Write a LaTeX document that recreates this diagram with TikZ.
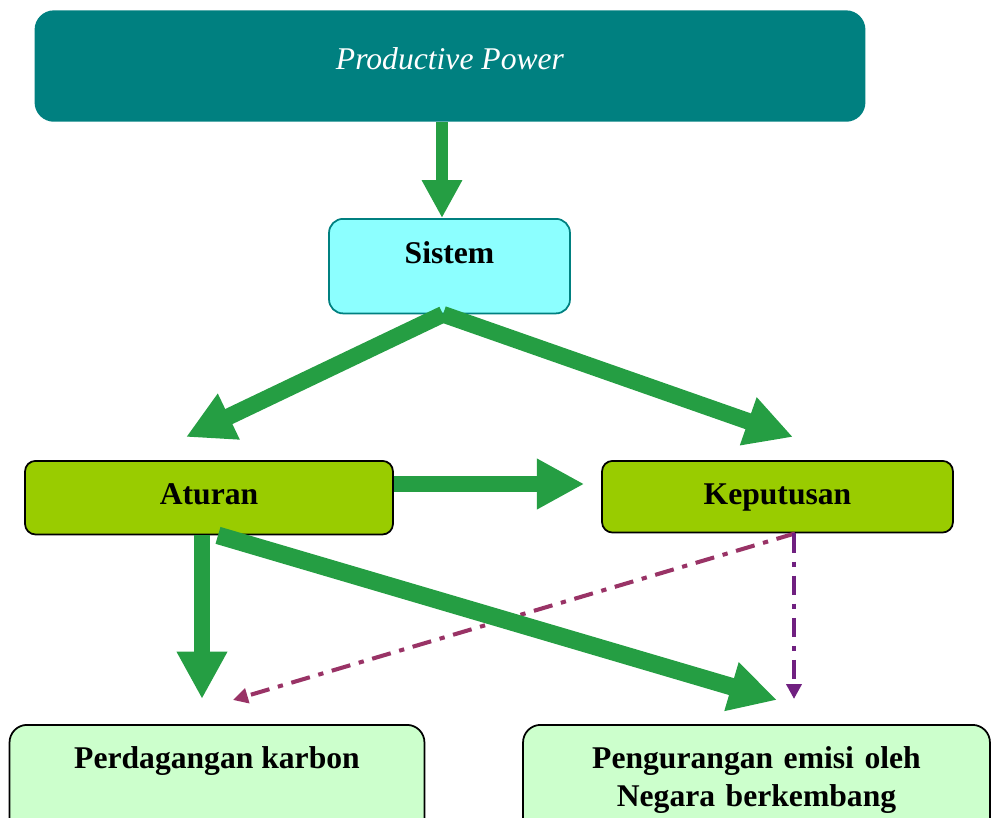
\documentclass[tikz,border=0pt]{standalone}
\usepackage{fontspec}
\setmainfont{Liberation Serif}
\usetikzlibrary{arrows.meta}
\definecolor{ppteal}{RGB}{0,128,128}
\definecolor{siscyan}{RGB}{140,255,255}
\definecolor{lime}{RGB}{153,204,0}
\definecolor{mint}{RGB}{204,255,204}
\definecolor{fgreen}{RGB}{37,158,67}
\definecolor{pdiag}{RGB}{153,51,102}
\definecolor{pvert}{RGB}{112,32,128}
\begin{document}
\begin{tikzpicture}[x=0.02cm,y=-0.02cm,
  box/.style={rounded corners=6pt,inner xsep=0pt,inner ysep=0pt,anchor=north,
    font=\fontsize{18}{21.5}\selectfont\bfseries},
  garrow/.style={color=fgreen,line width=9.5pt,-{Triangle[length=27pt,width=27pt]}},
  parrow/.style={line width=2.3pt,dash pattern=on 11pt off 5pt on 3pt off 5pt,
    -{Triangle[length=8.5pt,width=8.5pt]}}]
  \useasboundingbox (0,0) rectangle (991,818);
  \clip (0,0) rectangle (991,818);

  % 方框
  \node[box,fill=ppteal,rounded corners=11pt,minimum width=16.62cm,
    text height=33.4pt,text depth=30pt,text=white,
    font=\fontsize{18}{21.5}\selectfont\itshape] (pp) at (450,10) {Productive Power};
  \node[box,draw=ppteal,fill=siscyan,line width=1pt,rounded corners=8pt,
    minimum width=4.82cm,text height=25.5pt,text depth=28.3pt] (sistem) at (449.5,218) {Sistem};
  \node[box,draw=black,fill=lime,line width=1pt,minimum width=7.36cm,
    text height=24.9pt,text depth=17pt] (aturan) at (209,460) {Aturan};
  \node[box,draw=black,fill=lime,line width=1pt,minimum width=7.02cm,
    text height=24.9pt,text depth=15.9pt] (keputusan) at (777.5,460) {Keputusan};
  \node[box,draw=black,fill=mint,line width=1pt,rounded corners=10pt,minimum width=8.3cm,
    text height=24.9pt,text depth=80pt] (dagang) at (217,724) {Perdagangan karbon};
  \node[box,draw=black,fill=mint,line width=1pt,rounded corners=10pt,text width=9.34cm,
    align=center,text height=24.9pt,text depth=80pt] (emisi) at (756.5,724)
    {Pengurangan emisi oleh\\Negara berkembang};

  % 端点
  \coordinate (aturanTip) at (186,437);
  \coordinate (kepTip) at (793,437);
  \coordinate (dagangTip) at (202,699);
  \coordinate (emisiTip) at (777,700);
  \coordinate (dagangDot) at (233,700);
  \coordinate (emisiDot) at (794,699);

  % 虚线
  \draw[parrow,color=pdiag] (keputusan.south -| 795,0) -- (dagangDot);
  \draw[parrow,color=pvert] (keputusan.south -| 794,0) -- (emisiDot);

  % 箭头
  \draw[garrow,line width=6.8pt,-{Triangle[length=21.5pt,width=21.5pt]}]
    (pp.south -| 442,0) -- (sistem.north -| 442,0);
  \draw[garrow] (sistem.south -| 443,0) -- (aturanTip);
  \draw[garrow] (sistem.south -| 443,0) -- (kepTip);
  \draw[garrow,line width=9pt,shorten >=9.6pt] (aturan.east |- 0,484) -- (keputusan.west |- 0,484);
  \draw[garrow,line width=9pt] (aturan.south -| 202,0) -- (dagangTip);
  \draw[garrow,line width=10pt] (aturan.south -| 218,0) -- (emisiTip);
\end{tikzpicture}
\end{document}
